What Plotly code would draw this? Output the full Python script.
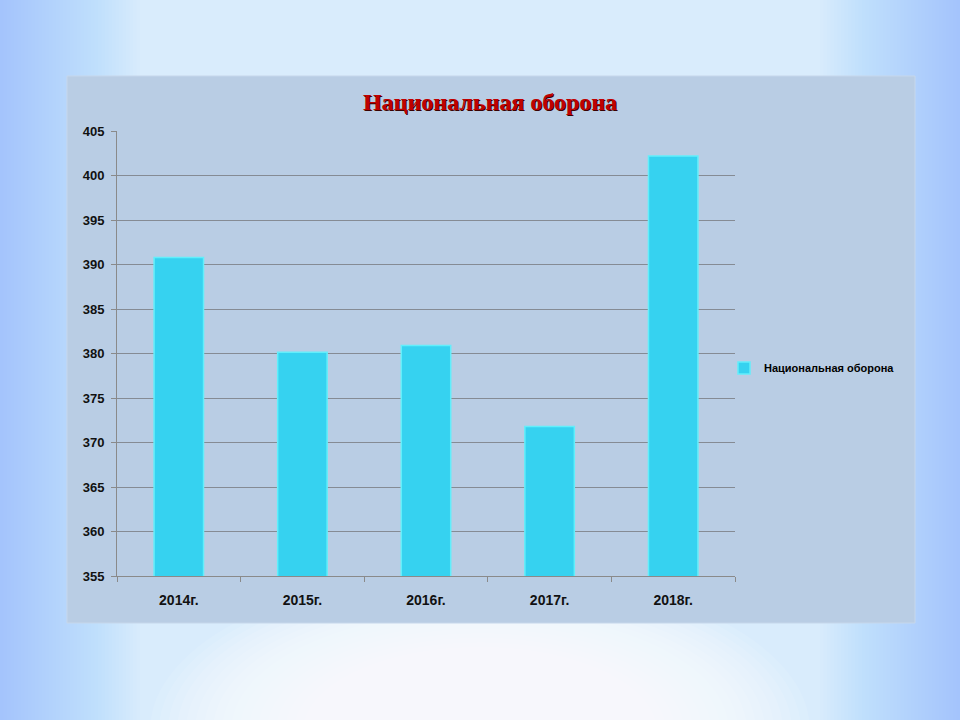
import plotly.graph_objects as go

categories = ["2014г.", "2015г.", "2016г.", "2017г.", "2018г."]
values = [390.8, 380.15, 380.9, 371.8, 402.2]
series_name = "Национальная оборона"
y_ticks = [355, 360, 365, 370, 375, 380, 385, 390, 395, 400, 405]

W, H = 960, 720
L, R, T, B = 117, 960 - 735, 131, 720 - 576


def px_x(p):
    return (p - L) / (W - L - R)


def px_y(p):
    return (H - B - p) / (H - T - B)


fig = go.Figure()
fig.add_trace(go.Bar(
    x=categories, y=values, name=series_name,
    marker=dict(color="#36D2F0", line=dict(color="#62EEFB", width=1.5)),
    width=0.4, showlegend=True,
))

shapes = []
# soft white glow at bottom centre
n_glow = 24
for i in range(n_glow):
    w = 660 - i * 18
    h = 320 - i * 9
    shapes.append(dict(type="circle", xref="paper", yref="paper",
                       x0=px_x(480 - w / 2), x1=px_x(480 + w / 2),
                       y0=px_y(730 + h / 2), y1=px_y(730 - h / 2),
                       fillcolor="#FFFFFF", opacity=0.1, line=dict(width=0), layer="below"))
# blue vignette on the left and right edges
n_edge = 40
for k in range(1, n_edge + 1):
    wd = 3.5 * k
    for (a, b) in [(0, wd), (W - wd, W)]:
        shapes.append(dict(type="rect", xref="paper", yref="paper",
                           x0=px_x(a), x1=px_x(b), y0=px_y(H), y1=px_y(0),
                           fillcolor="#80C3F1", opacity=0.015, line=dict(width=0), layer="below"))
# chart panel
shapes.append(dict(type="rect", xref="paper", yref="paper",
                   x0=px_x(67), x1=px_x(915), y0=px_y(623), y1=px_y(76),
                   fillcolor="#B9CDE4", line=dict(color="#C6D7EB", width=1), layer="below"))

fig.update_layout(
    width=W, height=H,
    margin=dict(l=L, r=R, t=T, b=B),
    paper_bgcolor="#D9ECFC",
    plot_bgcolor="rgba(0,0,0,0)",
    shapes=shapes,
    title=dict(text="<b>" + series_name + "</b>", xref="container", yref="container",
               x=490 / W, xanchor="center", y=1 - 102 / H, yanchor="middle",
               font=dict(family="Liberation Serif, Times New Roman, serif", size=24, color="#C00000",
                         shadow="1px 1px 0px #3A0000")),
    showlegend=True,
    legend=dict(x=px_x(724), xanchor="left", y=px_y(368), yanchor="middle",
                bgcolor="rgba(0,0,0,0)",
                font=dict(family="Liberation Sans, Arial, sans-serif", size=11, color="#000000",
                          weight="bold"),
                itemwidth=30),
    bargap=0.6,
    font=dict(family="Liberation Sans, Arial, sans-serif"),
)

fig.update_xaxes(
    type="category", showgrid=False, showline=True, linecolor="#8A8A8A", linewidth=1,
    ticks="outside", tickson="boundaries", ticklen=5, tickcolor="#8A8A8A",
    tickfont=dict(size=14, color="#111111", family="Liberation Sans, Arial, sans-serif", weight="bold"),
    ticklabelstandoff=11,
)
fig.update_yaxes(
    range=[355, 405], tickvals=y_ticks, ticktext=[str(v) for v in y_ticks],
    showgrid=True, gridcolor="#858B94", gridwidth=1,
    showline=True, linecolor="#8A8A8A", linewidth=1,
    ticks="outside", ticklen=5, tickcolor="#8A8A8A",
    tickfont=dict(size=13, color="#111111", family="Liberation Sans, Arial, sans-serif", weight="bold"),
    ticklabelstandoff=4,
    zeroline=False,
)

fig.write_html("out.html", config={"displayModeBar": False},
               post_script="document.body.style.margin='0';")
